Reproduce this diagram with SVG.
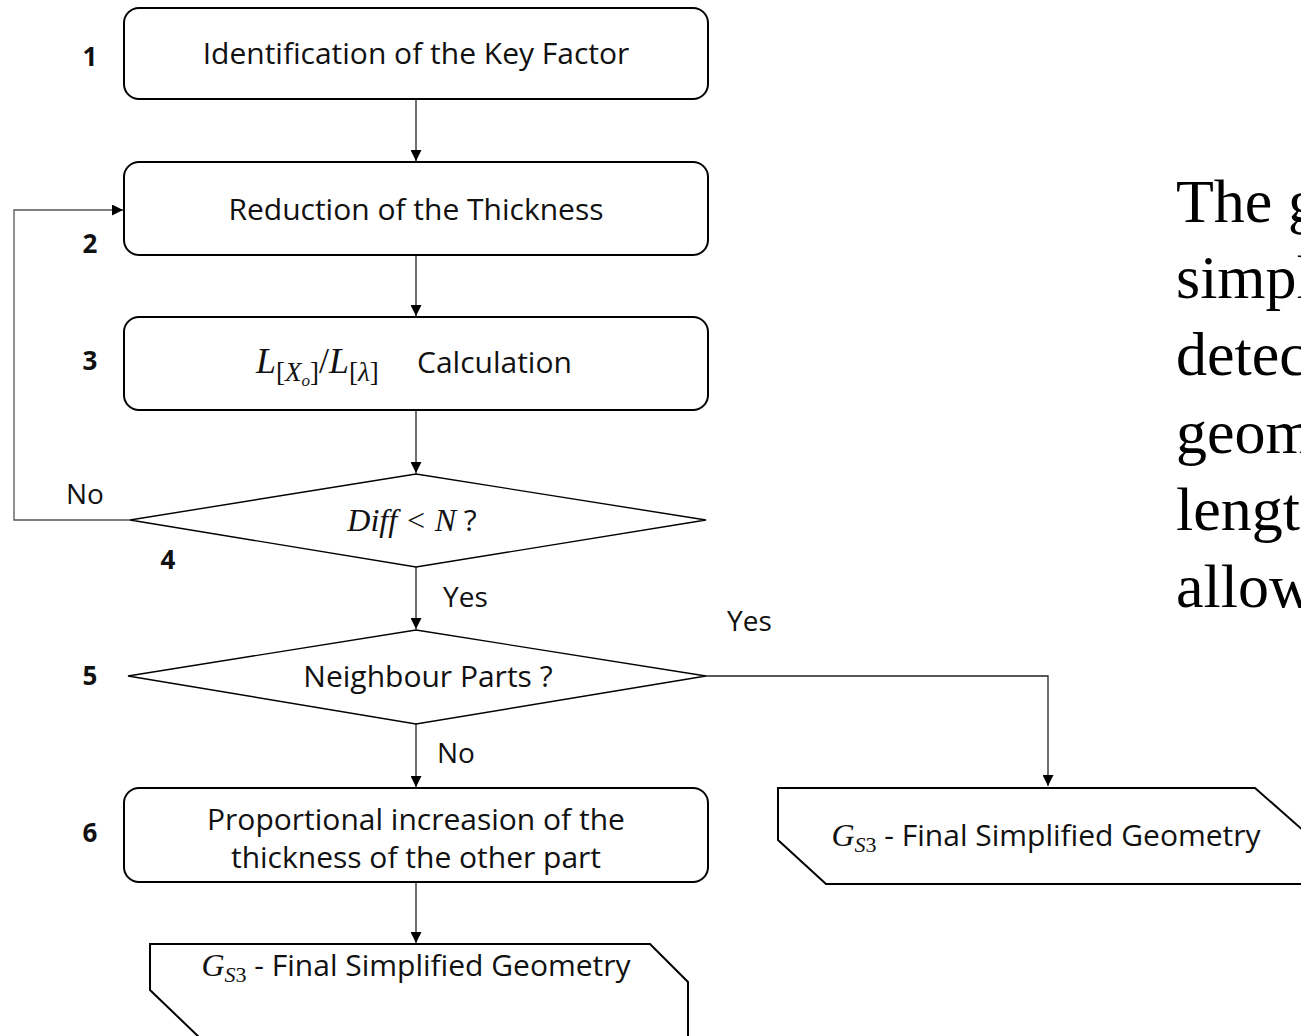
<svg xmlns="http://www.w3.org/2000/svg" width="1301" height="1036" viewBox="0 0 1301 1036">
<style>
.box{fill:#fff;stroke:#000;stroke-width:2}
.dia{fill:#fff;stroke:#000;stroke-width:1.4}
.con{fill:none;stroke:#222;stroke-width:1.3}
.t{font-family:"Open Sans","Noto Sans",sans-serif;font-size:30px;fill:#111;text-anchor:middle}
.lab{font-family:"Open Sans","Noto Sans",sans-serif;font-size:28px;fill:#111}
.sa{font-family:"Open Sans","Noto Sans",sans-serif;font-size:30px;fill:#111}
.num{font-family:"Open Sans","Noto Sans",sans-serif;font-size:26px;font-weight:bold;fill:#111;text-anchor:middle}
.ms{font-family:"Liberation Serif",serif;fill:#111}
.i{font-style:italic}
.big{font-family:"Liberation Serif",serif;font-size:62px;fill:#000}
</style>
<defs>
<marker id="ah" viewBox="0 0 10 10" refX="10" refY="5" markerWidth="11" markerHeight="11" markerUnits="userSpaceOnUse" orient="auto">
<path d="M0,0 L10,5 L0,10 z" fill="#000"/>
</marker>
</defs>

<g id="connectors">
<line class="con" x1="416" y1="99" x2="416" y2="161" marker-end="url(#ah)"/>
<line class="con" x1="416" y1="255" x2="416" y2="316" marker-end="url(#ah)"/>
<line class="con" x1="416" y1="410" x2="416" y2="473" marker-end="url(#ah)"/>
<polyline class="con" points="130,520 14,520 14,210 123,210" marker-end="url(#ah)" style="stroke:#555"/>
<line class="con" x1="416" y1="567" x2="416" y2="629" marker-end="url(#ah)"/>
<polyline class="con" points="706,676 1048,676 1048,786" marker-end="url(#ah)"/>
<line class="con" x1="416" y1="724" x2="416" y2="787" marker-end="url(#ah)"/>
<line class="con" x1="416" y1="882" x2="416" y2="943" marker-end="url(#ah)"/>
<text class="lab" x="66" y="504">No</text>
<text class="lab" x="443" y="607">Yes</text>
<text class="lab" x="727" y="631">Yes</text>
<text class="lab" x="437" y="763">No</text>
</g>

<g id="n1">
<rect class="box" x="124" y="8" width="584" height="91" rx="15"/>
<text class="t" x="416" y="64">Identification of the Key Factor</text>
<text class="num" x="90" y="66">1</text>
</g>

<g id="n2">
<rect class="box" x="124" y="162" width="584" height="93" rx="15"/>
<text class="t" x="416" y="220">Reduction of the Thickness</text>
<text class="num" x="90" y="253">2</text>
</g>

<g id="n3">
<rect class="box" x="124" y="317" width="584" height="93" rx="15"/>
<text x="256" y="373" class="ms" font-size="36"><tspan class="i">L</tspan><tspan font-size="27" dy="8">[</tspan><tspan class="i" font-size="27">X</tspan><tspan class="i" font-size="17" dy="5">o</tspan><tspan font-size="27" dy="-5">]</tspan><tspan dy="-8">/</tspan><tspan class="i">L</tspan><tspan font-size="27" dy="8">[</tspan><tspan class="i" font-size="27">λ</tspan><tspan font-size="27">]</tspan></text>
<text class="sa" x="417" y="373">Calculation</text>
<text class="num" x="90" y="370">3</text>
</g>

<g id="n4">
<polygon class="dia" points="416,474 706,520 416,567 130,520"/>
<text x="412" y="531" text-anchor="middle"><tspan class="ms i" font-size="32">Diff &lt; N</tspan><tspan class="sa"> ?</tspan></text>
<text class="num" x="168" y="569">4</text>
</g>

<g id="n5">
<polygon class="dia" points="416,630 706,676 416,724 128,676"/>
<text class="t" x="428" y="687">Neighbour Parts ?</text>
<text class="num" x="90" y="685">5</text>
</g>

<g id="n6">
<rect class="box" x="124" y="788" width="584" height="94" rx="15"/>
<text class="t" x="416" y="830">Proportional increasion of the</text>
<text class="t" x="416" y="868">thickness of the other part</text>
<text class="num" x="90" y="842">6</text>
</g>

<g id="n7">
<polygon class="box" points="150,944 650,944 688,982 688,1040 202,1040 150,990"/>
<text x="416" y="976" text-anchor="middle"><tspan class="ms i" font-size="32">G</tspan><tspan class="ms i" font-size="22" dy="6">S</tspan><tspan class="ms" font-size="22">3</tspan><tspan class="sa" dy="-6"> - Final Simplified Geometry</tspan></text>
</g>

<g id="n8">
<polygon class="box" points="778,788 1255,788 1305,832 1305,884 826,884 778,840"/>
<text x="1046" y="846" text-anchor="middle"><tspan class="ms i" font-size="32">G</tspan><tspan class="ms i" font-size="22" dy="6">S</tspan><tspan class="ms" font-size="22">3</tspan><tspan class="sa" dy="-6"> - Final Simplified Geometry</tspan></text>
</g>

<g id="sidetext">
<text class="big" x="1176" y="222">The g</text>
<text class="big" x="1176" y="298">simpl</text>
<text class="big" x="1176" y="375">detec</text>
<text class="big" x="1176" y="453">geom</text>
<text class="big" x="1176" y="530">lengt</text>
<text class="big" x="1176" y="607">allow</text>
</g>
</svg>
